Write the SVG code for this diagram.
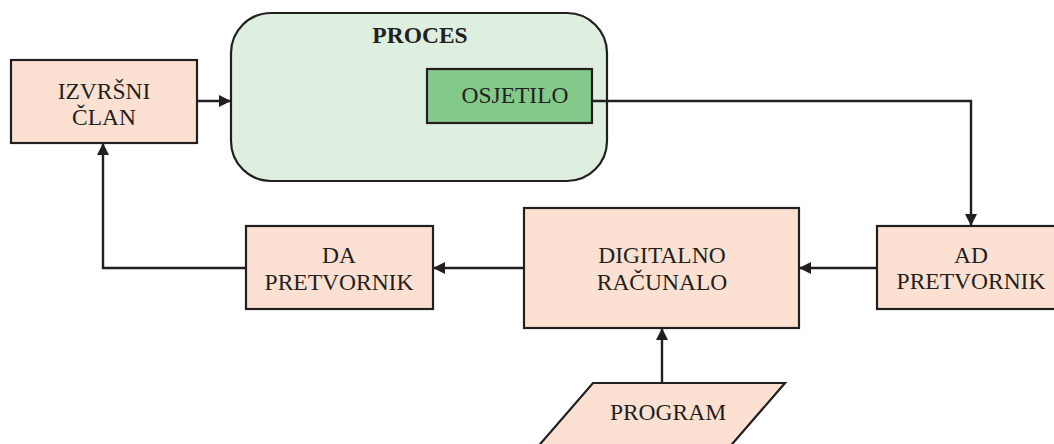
<svg xmlns="http://www.w3.org/2000/svg" width="1054" height="444" viewBox="0 0 1054 444">
<style>
.box{fill:#FCE1D3;stroke:#231F20;stroke-width:2.2}
.t{font-family:'Liberation Serif';font-size:23.5px;fill:#231F20;text-anchor:middle}
.b{font-weight:bold}
.c{fill:none;stroke:#231F20;stroke-width:2.4}
</style>
<defs>
<marker id="ah" markerUnits="userSpaceOnUse" markerWidth="14" markerHeight="14" refX="12" refY="6" orient="auto">
<path d="M0,0 L12,6 L0,12 z" fill="#231F20"/>
</marker>
</defs>
<rect width="1054" height="444" fill="#FFFFFF"/>
<g id="proces">
<rect x="231" y="13" width="376" height="168" rx="40" ry="40" fill="#DEEFDF" stroke="#231F20" stroke-width="2.2"/>
<text class="t b" x="420" y="43">PROCES</text>
</g>
<g id="osjetilo">
<rect x="427" y="69" width="165" height="54" fill="#82C98A" stroke="#231F20" stroke-width="2.2"/>
<text class="t" x="515" y="103">OSJETILO</text>
</g>
<g id="izvrsni">
<rect class="box" x="11" y="60" width="186" height="83"/>
<text class="t" x="104" y="99">IZVRŠNI</text>
<text class="t" x="104" y="125">ČLAN</text>
</g>
<g id="ad">
<rect class="box" x="877" y="226" width="186" height="83"/>
<text class="t" x="971" y="263">AD</text>
<text class="t" x="971" y="289">PRETVORNIK</text>
</g>
<g id="digitalno">
<rect class="box" x="524" y="208" width="275" height="120"/>
<text class="t" x="662" y="263">DIGITALNO</text>
<text class="t" x="662" y="290">RAČUNALO</text>
</g>
<g id="da">
<rect class="box" x="246" y="226" width="187" height="83"/>
<text class="t" x="339" y="263">DA</text>
<text class="t" x="339" y="290">PRETVORNIK</text>
</g>
<g id="program">
<polygon class="box" points="593,383 785,383 727,450 535,450"/>
<text class="t" x="668" y="420">PROGRAM</text>
</g>
<g id="connectors">
<path class="c" d="M197,101 H231" marker-end="url(#ah)"/>
<path class="c" d="M592,101 H971 V226" marker-end="url(#ah)"/>
<path class="c" d="M877,268 H799" marker-end="url(#ah)"/>
<path class="c" d="M524,268 H433" marker-end="url(#ah)"/>
<path class="c" d="M246,268 H103 V143" marker-end="url(#ah)"/>
<path class="c" d="M662,383 V328" marker-end="url(#ah)"/>
</g>
</svg>
